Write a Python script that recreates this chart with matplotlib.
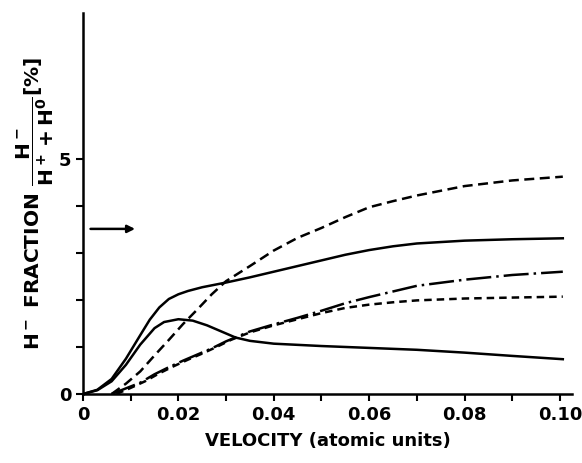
import numpy as np
import matplotlib
matplotlib.use("Agg")
import matplotlib.pyplot as plt

plt.rcParams['font.family'] = ['DejaVu Sans']
plt.rcParams['font.weight'] = 'bold'
plt.rcParams['mathtext.default'] = 'bf'

# upper solid curve
x_a = [0, 0.003, 0.006, 0.009, 0.012, 0.014, 0.016, 0.018, 0.02, 0.022, 0.025,
       0.03, 0.035, 0.04, 0.045, 0.05, 0.055, 0.06, 0.065, 0.07, 0.08, 0.09, 0.1006]
y_a = [0, 0.09, 0.32, 0.75, 1.25, 1.58, 1.84, 2.02, 2.12, 2.19, 2.27,
       2.37, 2.48, 2.60, 2.72, 2.84, 2.96, 3.06, 3.14, 3.20, 3.26, 3.29, 3.31]

# lower solid curve (with maximum)
x_b = [0, 0.003, 0.006, 0.009, 0.012, 0.015, 0.017, 0.02, 0.023, 0.026, 0.029,
       0.032, 0.035, 0.04, 0.05, 0.06, 0.07, 0.08, 0.09, 0.1006]
y_b = [0, 0.08, 0.27, 0.62, 1.05, 1.40, 1.53, 1.59, 1.56, 1.46, 1.33,
       1.20, 1.13, 1.07, 1.02, 0.98, 0.94, 0.88, 0.81, 0.74]

# short dashed curve (highest at large velocity)
x_c = [0.006, 0.009, 0.012, 0.015, 0.018, 0.021, 0.024, 0.027, 0.03, 0.035, 0.04,
       0.045, 0.05, 0.055, 0.06, 0.065, 0.07, 0.08, 0.09, 0.1006]
y_c = [0, 0.22, 0.48, 0.82, 1.15, 1.49, 1.80, 2.12, 2.40, 2.72, 3.05,
       3.32, 3.53, 3.76, 3.97, 4.10, 4.22, 4.42, 4.54, 4.62]

# dash-dot curve
x_d = [0.006, 0.009, 0.012, 0.015, 0.018, 0.021, 0.024, 0.027, 0.03, 0.035, 0.04,
       0.045, 0.05, 0.055, 0.06, 0.065, 0.07, 0.08, 0.09, 0.1006]
y_d = [0, 0.12, 0.24, 0.42, 0.57, 0.71, 0.84, 0.97, 1.12, 1.33, 1.48,
       1.62, 1.77, 1.93, 2.06, 2.18, 2.30, 2.43, 2.53, 2.60]

# lower dashed curve
x_e = [0.007, 0.01, 0.013, 0.016, 0.019, 0.022, 0.025, 0.028, 0.031, 0.035, 0.04,
       0.045, 0.05, 0.055, 0.06, 0.065, 0.07, 0.08, 0.09, 0.1006]
y_e = [0, 0.13, 0.27, 0.44, 0.59, 0.73, 0.86, 1.00, 1.15, 1.31, 1.46,
       1.59, 1.72, 1.83, 1.90, 1.95, 1.99, 2.03, 2.05, 2.07]

x_ticks = [0, 0.02, 0.04, 0.06, 0.08, 0.10]
x_labels = ['0', '0.02', '0.04', '0.06', '0.08', '0.10']

fig = plt.figure(figsize=(5.82, 4.63), dpi=100)
ax = fig.add_axes([0.1426, 0.149, 0.840, 0.823])

lw = 1.8
ax.plot(x_a, y_a, color='black', lw=lw)
ax.plot(x_b, y_b, color='black', lw=lw)
ax.plot(x_c, y_c, color='black', lw=lw, linestyle=(0, (4, 2.2)))
ax.plot(x_d, y_d, color='black', lw=lw, linestyle=(0, (10, 2, 1, 2)))
ax.plot(x_e, y_e, color='black', lw=lw, linestyle=(0, (3, 2)))

# arrow marking the limit value
ax.annotate('', xy=(0.0115, 3.51), xytext=(0.001, 3.51),
            arrowprops=dict(arrowstyle='-|>', color='black', lw=1.8,
                            mutation_scale=11))

ax.set_xlim(0, 0.1025)
ax.set_ylim(0, 8.1)

ax.spines['top'].set_visible(False)
ax.spines['right'].set_visible(False)
ax.spines['left'].set_linewidth(1.8)
ax.spines['bottom'].set_linewidth(1.8)

ax.set_xticks(x_ticks)
ax.set_xticklabels(x_labels, fontsize=13, fontweight='bold')
ax.set_xticks(np.arange(0.01, 0.101, 0.02), minor=True)
ax.set_yticks([0, 5])
ax.set_yticklabels(['0', '5'], fontsize=13, fontweight='bold')
ax.set_yticks([1, 2, 3, 4], minor=True)
ax.tick_params(which='both', direction='out', length=5, width=1.5)

ax.set_xlabel('VELOCITY (atomic units)', fontsize=13, fontweight='bold', labelpad=6)
ax.set_ylabel(r'H$^-$ FRACTION $\dfrac{H^-}{H^+ + H^0}$[%]', fontsize=14.5,
              fontweight='bold', labelpad=2)

fig.savefig('out.png', dpi=100)
